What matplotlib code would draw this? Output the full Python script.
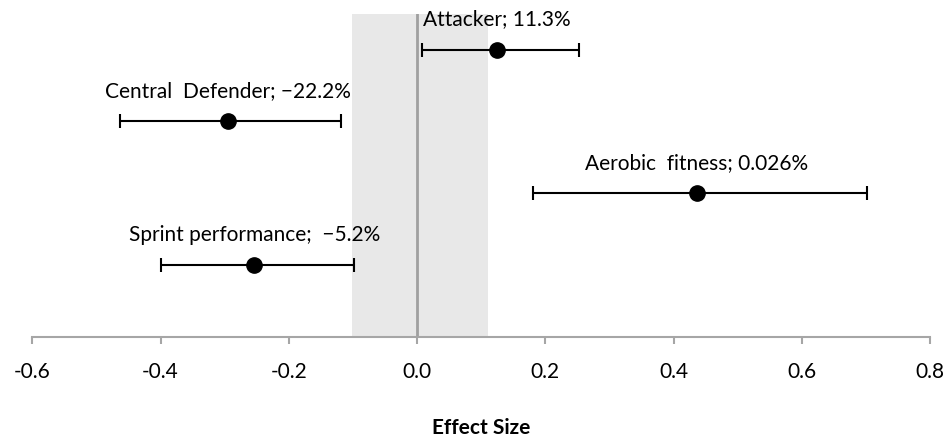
import matplotlib
matplotlib.use("Agg")
import matplotlib.pyplot as plt

# effect sizes with 90% confidence limits
labels = ["Sprint performance;  \u22125.2%", "Aerobic  fitness; 0.026%",
          "Central  Defender; \u221222.2%", "Attacker; 11.3%"]
effect = [-0.254, 0.436, -0.295, 0.125]
lower = [-0.400, 0.181, -0.463, 0.008]
upper = [-0.099, 0.701, -0.118, 0.253]
rows = [1, 2, 3, 4]

# trivial-effect band
trivial = (-0.102, 0.110)
xticks = [-0.6, -0.4, -0.2, 0.0, 0.2, 0.4, 0.6, 0.8]

plt.rcParams["font.family"] = ["Lato", "DejaVu Sans"]
FS = 15

fig = plt.figure(figsize=(9.52, 4.41), dpi=100)
ax = fig.add_axes([0.034, 0.236, 0.943, 0.733])

ax.axvspan(trivial[0], trivial[1], color="#e8e8e8", zorder=0, lw=0)
ax.axvline(0, color="#a0a0a0", lw=2, zorder=1)

err = [[e - lo for e, lo in zip(effect, lower)],
       [hi - e for e, hi in zip(effect, upper)]]
ax.errorbar(effect, rows, xerr=err, fmt="o", color="black", ms=11,
            elinewidth=1.5, capsize=5, capthick=1.5, zorder=3)

for e, r, lab in zip(effect, rows, labels):
    ax.text(e, r + 0.34, lab, ha="center", va="baseline", fontsize=FS)

ax.set_xlim(-0.6, 0.8)
ax.set_ylim(0, 4.5)
ax.set_xticks(xticks)
ax.set_xticklabels([f"{t:.1f}" for t in xticks], fontsize=FS)
ax.set_yticks([])

for side in ["top", "right", "left"]:
    ax.spines[side].set_visible(False)
ax.spines["bottom"].set_color("#a6a6a6")
ax.spines["bottom"].set_linewidth(1.5)
ax.tick_params(axis="x", direction="out", length=5, width=1.5,
               color="#a6a6a6", pad=13)

ax.set_xlabel("Effect Size", fontsize=FS, fontweight="bold", labelpad=26)

fig.savefig("out.png", dpi=100)
